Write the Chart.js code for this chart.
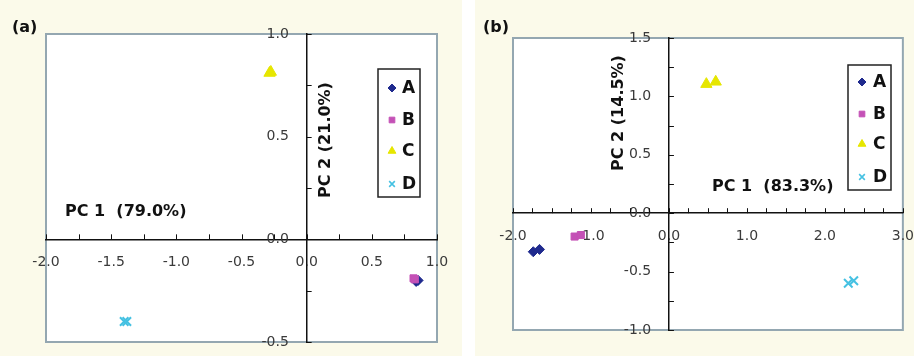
<!DOCTYPE html>
<html>
<head>
<meta charset="utf-8">
<script src="https://cdn.jsdelivr.net/npm/chart.js@4"></script>
<style>
  html, body { margin: 0; padding: 0; background: #fff; }
  body { width: 914px; height: 356px; position: relative; overflow: hidden; }
  .panel { position: absolute; top: 0; height: 356px; background: #fbfaea; }
  #pa { left: 0; width: 462px; }
  #pb { left: 475px; width: 439px; }
</style>
</head>
<body>
<div class="panel" id="pa"><canvas id="chartA"></canvas></div>
<div class="panel" id="pb"><canvas id="chartB"></canvas></div>
<script>
const groups = ["A", "B", "C", "D"];
const groupColors = ["#1f2a8e", "#c451b6", "#e6e600", "#45c1e2"];
const groupStyles = ["rectRot", "rect", "triangle", "crossRot"];

// panel (a) scores [PC1, PC2]
const a_A = [[0.84, -0.205], [0.855, -0.2]];
const a_B = [[0.82, -0.19], [0.83, -0.195]];
const a_C = [[-0.285, 0.81], [-0.275, 0.815]];
const a_D = [[-1.4, -0.4], [-1.38, -0.4]];

// panel (b) scores [PC1, PC2]
const b_A = [[-1.74, -0.33], [-1.66, -0.31]];
const b_B = [[-1.21, -0.2], [-1.13, -0.187]];
const b_C = [[0.48, 1.105], [0.6, 1.125]];
const b_D = [[2.3, -0.6], [2.37, -0.578]];

const aXLabels = [-2.0, -1.5, -1.0, -0.5, 0.0, 0.5, 1.0];
const aYLabels = [-0.5, 0.0, 0.5, 1.0];
const bXLabels = [-2.0, -1.0, 0.0, 1.0, 2.0, 3.0];
const bYLabels = [-1.0, -0.5, 0.0, 0.5, 1.0, 1.5];

const labelFont = { family: "DejaVu Sans", size: 14, lineHeight: 1.1 };
const boldFont = "bold 16px 'DejaVu Sans'";
const gap = "\u00a0\u00a0\u00a0\u00a0"; // keeps y labels clear of the axis line

const pcaDecor = {
  id: "pcaDecor",
  beforeDraw(chart) {
    const { ctx, chartArea: ca } = chart;
    ctx.save();
    ctx.fillStyle = "#ffffff";
    ctx.fillRect(ca.left, ca.top, ca.width, ca.height);
    ctx.strokeStyle = "#94a7b1";
    ctx.lineWidth = 2;
    ctx.strokeRect(ca.left, ca.top, ca.width, ca.height);
    ctx.restore();
  },
  beforeDatasetsDraw(chart) {
    const { ctx, scales } = chart;
    const xAxisY = scales.y.getPixelForValue(0);
    const yAxisX = scales.x.getPixelForValue(0);
    ctx.save();
    ctx.strokeStyle = "#111";
    ctx.lineWidth = 1;
    ctx.beginPath();
    scales.x.ticks.forEach((t) => {
      const px = Math.round(scales.x.getPixelForValue(t.value)) + 0.5;
      ctx.moveTo(px, xAxisY);
      ctx.lineTo(px, xAxisY - 5);
    });
    scales.y.ticks.forEach((t) => {
      const py = Math.round(scales.y.getPixelForValue(t.value)) + 0.5;
      ctx.moveTo(yAxisX, py);
      ctx.lineTo(yAxisX + 5, py);
    });
    ctx.stroke();
    ctx.restore();
  },
  afterDraw(chart, args, opts) {
    const { ctx } = chart;
    ctx.save();
    ctx.fillStyle = "#111";
    ctx.font = boldFont;
    ctx.textBaseline = "middle";
    opts.titles.forEach((t) => {
      ctx.save();
      ctx.translate(t.x, t.y);
      if (t.rotate) {
        ctx.rotate(-Math.PI / 2);
        ctx.textAlign = "center";
      } else {
        ctx.textAlign = "left";
      }
      ctx.fillText(t.text, 0, 0);
      ctx.restore();
    });

    // legend box
    const lg = opts.legend;
    ctx.strokeStyle = "#222";
    ctx.lineWidth = 1.5;
    ctx.strokeRect(lg.x, lg.y, lg.w, lg.h);
    ctx.font = "bold 17px 'DejaVu Sans'";
    ctx.textAlign = "left";
    chart.data.datasets.forEach((ds, i) => {
      const cy = lg.y + lg.rows[i];
      ctx.fillStyle = ds.backgroundColor;
      ctx.strokeStyle = ds.borderColor;
      ctx.lineWidth = ds.pointStyle === "crossRot" ? 1.6 : 1;
      Chart.helpers.drawPoint(ctx, {
        pointStyle: ds.pointStyle,
        radius: ds.pointStyle === "triangle" ? 4.5 : 4,
        rotation: 0,
        borderWidth: ctx.lineWidth,
      }, lg.x + 14, cy);
      ctx.fillStyle = "#111";
      ctx.fillText(ds.label, lg.x + lg.textDx, cy + 1);
    });
    ctx.restore();
  },
};

function makeDatasets(sets) {
  return sets.map((pts, i) => ({
    label: groups[i],
    data: pts.map((p) => ({ x: p[0], y: p[1] })),
    pointStyle: groupStyles[i],
    backgroundColor: groupColors[i],
    borderColor: groupColors[i],
    borderWidth: groupStyles[i] === "crossRot" ? 2 : 1,
    pointRadius: groupStyles[i] === "triangle" ? 6.5 : groupStyles[i] === "crossRot" ? 6 : 5,
    order: 4 - i,
  }));
}

function isLabelled(list, v) {
  return list.some((l) => Math.abs(l - v) < 1e-6);
}

function axis(min, max, list, horizontal) {
  return {
    type: "linear",
    min,
    max,
    position: horizontal ? { y: 0 } : { x: 0 },
    grid: { display: true, drawOnChartArea: false, drawTicks: false },
    border: { display: true, color: "#111", width: 1.5 },
    ticks: {
      stepSize: 0.25,
      autoSkip: false,
      maxRotation: 0,
      padding: 0,
      color: "#3a3a3a",
      font: labelFont,
      callback: (v) => {
        if (!isLabelled(list, v)) return "";
        return horizontal ? ["", v.toFixed(1)] : v.toFixed(1) + gap;
      },
    },
  };
}

function makeChart(id, sets, xr, yr, xl, yl, padding, titles, legend) {
  return new Chart(document.getElementById(id), {
    type: "scatter",
    data: { datasets: makeDatasets(sets) },
    options: {
      responsive: true,
      maintainAspectRatio: false,
      animation: false,
      layout: { padding },
      scales: {
        x: axis(xr[0], xr[1], xl, true),
        y: axis(yr[0], yr[1], yl, false),
      },
      plugins: {
        legend: { display: false },
        tooltip: { enabled: false },
        pcaDecor: { titles, legend },
      },
    },
    plugins: [pcaDecor],
  });
}

makeChart("chartA", [a_A, a_B, a_C, a_D], [-2, 1], [-0.5, 1], aXLabels, aYLabels,
  { left: 46, right: 25, top: 34, bottom: 14 },
  [
    { text: "(a)", x: 12, y: 28 },
    { text: "PC 1  (79.0%)", x: 65, y: 212 },
    { text: "PC 2 (21.0%)", x: 326, y: 140, rotate: true },
  ],
  { x: 378, y: 69, w: 42, h: 128, rows: [19, 51, 82, 115], textDx: 24 });

makeChart("chartB", [b_A, b_B, b_C, b_D], [-2, 3], [-1, 1.5], bXLabels, bYLabels,
  { left: 38, right: 11, top: 38, bottom: 26 },
  [
    { text: "(b)", x: 8, y: 28 },
    { text: "PC 1  (83.3%)", x: 237, y: 187 },
    { text: "PC 2 (14.5%)", x: 144, y: 113, rotate: true },
  ],
  { x: 373, y: 65, w: 43, h: 125, rows: [17, 49, 79, 112], textDx: 25 });
</script>
</body>
</html>
